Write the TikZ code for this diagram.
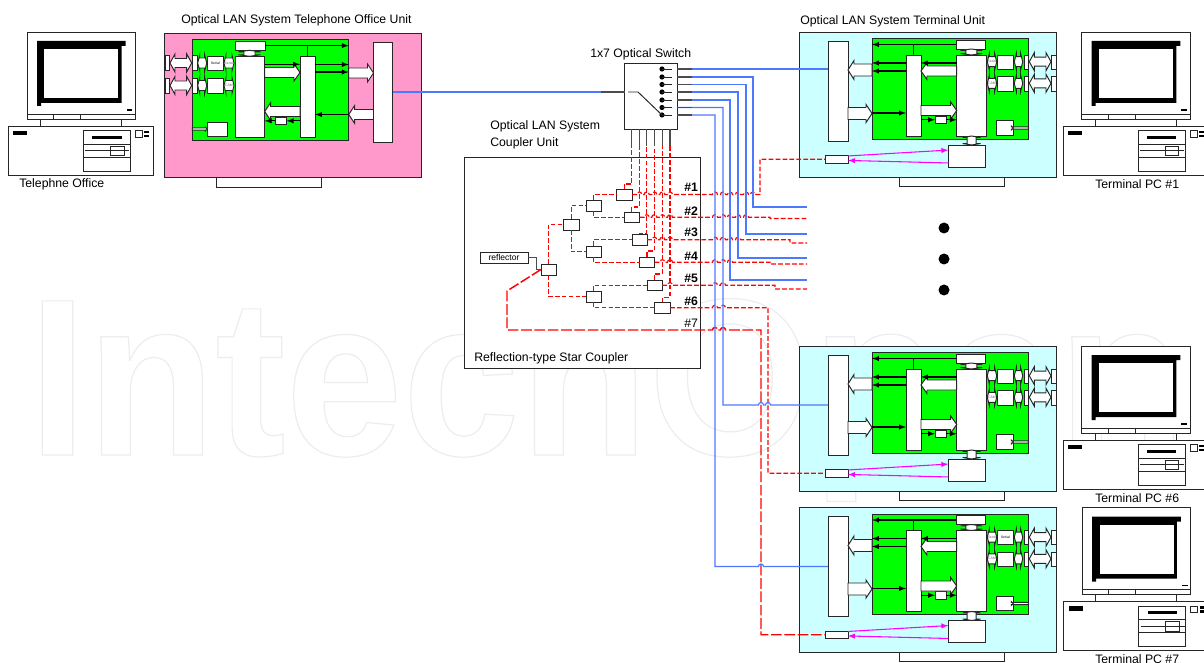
\documentclass[tikz,border=0pt]{standalone}
\usepackage{fontspec}
\setmainfont{Liberation Sans}
\newfontfamily\markfont[FakeStretch=0.94]{Liberation Sans Bold}
\usepackage{tikz}

\definecolor{unitpink}{HTML}{FF99CC}
\definecolor{unitcyan}{HTML}{CCFFFF}
\definecolor{boardgreen}{HTML}{00FF00}
\definecolor{fibreblue}{HTML}{4D79FF}
\definecolor{fibrered}{HTML}{FF0000}
\definecolor{linkmag}{HTML}{FF00FF}

\tikzset{
  outline/.style={draw=black!85,line width=0.72pt},
  blockbox/.style={outline,fill=white,inner sep=0pt,outer sep=0pt},
  shapefill/.style={outline,fill=white,line join=miter},
  sigline/.style={draw=black,line width=0.8pt,-latex},
  fibre/.style={draw=fibreblue,line width=0.9pt},
  stub/.style={draw=black!70,line width=0.9pt},
  redfibre/.style={draw=fibrered,line width=0.85pt,dash pattern=on 3.6pt off 1.6pt},
  longfibre/.style={draw=fibrered,line width=1.1pt,dash pattern=on 8pt off 2pt},
  maglink/.style={draw=linkmag,line width=0.8pt,-latex},
  caption/.style={font=\fontsize{9.2}{11}\selectfont,anchor=west,inner sep=0pt},
  portlabel/.style={font=\bfseries\fontsize{9.2}{11}\selectfont,anchor=west,inner sep=0pt},
  tinytext/.style={font=\fontsize{2.6}{3}\selectfont,text=black!60,inner sep=0pt}
}

% box given by its two corners, in picture units
\newcommand{\pbox}[7][]{%
  \node[blockbox,minimum width={0.75pt*(#5-#3)},minimum height={0.75pt*(#6-#4)},#1] (#2) at ({(#3+#5)/2},{(#4+#6)/2}) {#7};}
% white block arrow
\newcommand{\bigarrow}[6]{%
  \draw[shapefill] (#1,{#3-#4}) -- ({#2-#6},{#3-#4}) -- ({#2-#6},{#3-#5}) -- (#2,#3) -- ({#2-#6},{#3+#5}) -- ({#2-#6},{#3+#4}) -- (#1,{#3+#4}) -- cycle;}
% double headed white arrows
\newcommand{\dblarrow}[6]{%
  \draw[shapefill] (#1,#3) -- ({#1+#6},{#3-#5}) -- ({#1+#6},{#3-#4}) -- ({#2-#6},{#3-#4}) -- ({#2-#6},{#3-#5}) -- (#2,#3) -- ({#2-#6},{#3+#5}) -- ({#2-#6},{#3+#4}) -- ({#1+#6},{#3+#4}) -- ({#1+#6},{#3+#5}) -- cycle;}
\newcommand{\vdblarrow}[6]{%
  \draw[shapefill] (#3,#1) -- ({#3-#5},{#1+#6}) -- ({#3-#4},{#1+#6}) -- ({#3-#4},{#2-#6}) -- ({#3-#5},{#2-#6}) -- (#3,#2) -- ({#3+#5},{#2-#6}) -- ({#3+#4},{#2-#6}) -- ({#3+#4},{#1+#6}) -- ({#3+#5},{#1+#6}) -- cycle;}
% run along a level line, with a small bridge over each crossing
\newcommand{\bridges}[2]{foreach \hx in {#2} { -- ({\hx-2.5},#1) arc[start angle=180,delta angle=180,radius=2.5] }}

% computer, drawn at the office position
\newcommand{\pcunit}[3]{%
  \begin{scope}[shift={(#2,#3)}]
    %monitor
    \pbox{#1mon}{27}{32}{135.5}{119}{}
    \fill[black] (37,41) -- (125.6,41) -- (125.6,46) -- (121.7,46) -- (121.7,103) -- (41,103) -- (41,106) -- (37,106) -- cycle;
    \fill[white] (44.3,49.3) rectangle (118.3,98.3);
    \fill[black] (126.7,109) rectangle (132.3,110.7);
    \draw[outline] (27,114.3) -- (135.5,114.3);
    \draw[outline] (53.3,114.3) -- (53.3,119);
    \draw[outline] (80.7,114.3) -- (80.7,119);
    \draw[outline] (40.3,119) -- (40.3,126);
    \draw[outline] (121.7,119) -- (121.7,126);
    %base
    \pbox{#1base}{8.7}{126}{153.3}{175.3}{}
    \fill[black] (13.3,130.7) rectangle (27.3,135.3);
    \pbox{#1drive}{83.3}{130.7}{130.7}{171}{}
    \draw[outline] (83.3,144) -- (130.7,144);
    \draw[outline] (83.3,157.3) -- (130.7,157.3);
    \fill[black] (92.3,135.7) rectangle (121.7,138.7);
    \draw[outline] (85.3,150.7) -- (129.3,150.7);
    \draw[outline] (110.7,146) rectangle (124,155.7);
    \draw[outline] (135.7,130.7) rectangle (142.3,137.3);
    \fill[black] (144.3,130.7) rectangle (149,133.3);
    \fill[black] (144.3,134.7) rectangle (149,137.3);
  \end{scope}}

% terminal unit, shifted down from the top one
\newcommand{\termunit}[4]{%
  \begin{scope}[shift={(0,#2)}]
    %case
    \pbox[fill=unitcyan]{#1case}{799.5}{32}{1056.5}{177}{}
    \pbox{#1stand}{899}{177}{1004}{186}{}
    \pbox[fill=boardgreen]{#1board}{872}{38.5}{1028.3}{139}{}
    %blocks
    \pbox{#1opt}{828}{41}{848}{141}{}
    \pbox{#1bus}{906}{55}{921}{136}{}
    \pbox{#1cpu}{956.7}{55}{986}{136}{}
    \pbox{#1top}{956}{40}{985.7}{49}{}
    \vdblarrow{49}{55}{971.4}{5.5}{11}{1.5}
    \pbox{#1serA}{997.3}{55}{1013.3}{69.3}{\fontsize{2.6}{3}\selectfont #4}
    \pbox{#1serB}{997.3}{76.7}{1013.3}{91}{}
    \dblarrow{987.3}{996.7}{61.7}{5}{8}{2}
    \dblarrow{987.3}{996.7}{83.3}{5}{8}{2}
    \node[tinytext] (#1txA) at (992,61.7) {#3};
    \node[tinytext] (#1txB) at (992,83.3) {CAM};
    \dblarrow{1014.3}{1022.7}{61.7}{5}{8}{2}
    \dblarrow{1014.3}{1022.7}{83.3}{5}{8}{2}
    \pbox{#1sm1}{1024}{55}{1028.3}{69.3}{}
    \pbox{#1sm2}{1024}{76.7}{1028.3}{91}{}
    \dblarrow{1029.3}{1051}{61.7}{4.5}{9}{5}
    \dblarrow{1029.3}{1051}{83.3}{4.5}{9}{5}
    \pbox{#1port1}{1051.7}{55}{1056.3}{69.3}{}
    \pbox{#1port2}{1051.7}{76.7}{1056.3}{91}{}
    \pbox{#1mem}{996.7}{120.7}{1013.3}{135.3}{}
    \bigarrow{1028.3}{1013.3}{128}{1.2}{2}{2}
    \pbox{#1small}{935}{116}{946}{123.5}{}
    \pbox{#1lan}{948.3}{145}{985.7}{167.3}{}
    \vdblarrow{136}{145}{971.6}{4.5}{9}{1.5}
    \pbox{#1link}{825}{155.5}{848}{163}{}
    %block arrows
    \bigarrow{956.7}{921}{71}{5}{8.5}{-6}
    \bigarrow{872}{848}{70}{6}{9.5}{-6}
    \bigarrow{848}{872}{113.5}{6}{9}{6}
    \bigarrow{921}{956.7}{110.5}{5}{8.5}{6}
    %signal lines
    \draw[sigline] (#1top.west) -- (#1top.west -| #1board.west);
    \draw[outline] (#1bus.north) -- (#1bus.north |- #1top.west);
    \draw[sigline] (#1bus.west |- 0,63) -- (#1board.west |- 0,63);
    \draw[sigline] (#1bus.west |- 0,71) -- (#1board.west |- 0,71);
    \draw[sigline] (#1cpu.west |- 0,63) -- (#1bus.east |- 0,63);
    \draw[sigline] (#1board.west |- 0,113) -- (#1bus.west |- 0,113);
    \draw[sigline] (#1bus.east |- #1small.west) -- (#1small.west);
    \draw[sigline] (#1small.east) -- (#1small.east -| #1cpu.west);
    %optical link
    \draw[maglink] (#1link.16) -- (#1lan.162);
    \draw[maglink] (#1lan.200) -- (#1link.-6);
  \end{scope}}

\begin{document}
\begin{tikzpicture}[x=0.75pt,y=0.75pt,yscale=-1,xscale=1]
  \useasboundingbox (0,0) rectangle (1204,663);
  \fill[white] (0,0) rectangle (1204,663);

  % Watermark
  \node[anchor=base west,inner sep=0pt,font=\markfont\fontsize{168}{170}\selectfont] (wmark) at (28,455) {\special{pdf:code q 1 Tr 0.9 w 0.93 G}IntechOpen\special{pdf:code Q}};

  % Text Node
  \node[caption] (ttloffice) at (181,20) {Optical LAN System Telephone Office Unit};
  \node[caption] (ttlterm) at (800,21) {Optical LAN System Terminal Unit};
  \node[caption] (ttlswitch) at (590,54.5) {1x7 Optical Switch};
  \node[caption] (ttlcoupA) at (490,126.5) {Optical LAN System};
  \node[caption] (ttlcoupB) at (490,143) {Coupler Unit};
  \node[caption] (lbloffice) at (19,184.5) {Telephne Office};
  \node[caption] (lblpc1) at (1095,184.5) {Terminal PC \#1};
  \node[caption] (lblpc6) at (1095,498) {Terminal PC \#6};
  \node[caption] (lblpc7) at (1095,659.5) {Terminal PC \#7};

  % Computers
  \pcunit{pcoff}{0}{0}
  \pcunit{pcone}{1054.7}{0}
  \pcunit{pcsix}{1054.7}{314}
  \pcunit{pcsev}{1055.2}{475.5}

  % Office unit
  \pbox[fill=unitpink]{ocase}{164.5}{33}{421}{177}{}
  \pbox{ostand}{216.5}{177}{321.5}{187}{}
  \pbox[fill=boardgreen]{oboard}{192.3}{39.7}{348.7}{140}{}
  \pbox{oopt}{373.5}{42}{392.5}{142}{}
  \pbox{obus}{300}{56.3}{315}{137.3}{}
  \pbox{ocpu}{235}{56.3}{264.7}{137.3}{}
  \pbox{otop}{235.3}{41}{265}{50.3}{}
  \vdblarrow{50.3}{56.3}{249.5}{5.5}{11}{1.5}
  \pbox{oport1}{165}{55.7}{169.3}{70.7}{}
  \pbox{oport2}{165}{78.3}{169.3}{93}{}
  \dblarrow{170}{191.7}{63}{4.5}{9}{5}
  \dblarrow{170}{191.7}{85.5}{4.5}{9}{5}
  \pbox{osm1}{192.3}{55.7}{197.3}{70.7}{}
  \pbox{osm2}{192.3}{78.3}{197.3}{93}{}
  \dblarrow{197.7}{206.7}{63}{5}{8}{2}
  \dblarrow{197.7}{206.7}{85.5}{5}{8}{2}
  \pbox{oser1}{207.3}{56.3}{223.3}{70.7}{\fontsize{2.6}{3}\selectfont Serial}
  \pbox{oser2}{207.3}{78.3}{223.3}{93}{}
  \dblarrow{224}{234}{63}{5}{8}{2}
  \dblarrow{224}{234}{85.5}{5}{8}{2}
  \node[tinytext] (otxA) at (229,63) {Serial};
  \node[tinytext] (otxB) at (229,85.5) {CAM};
  \pbox{omem}{207.3}{122}{227.7}{136.7}{}
  \bigarrow{192.3}{207.3}{129}{1.2}{2}{2}
  \pbox{osmall}{275.3}{117}{286.7}{124.7}{}
  %Block arrows
  \bigarrow{264.7}{300}{72.5}{5}{8.5}{6}
  \bigarrow{348.7}{373.5}{73}{5}{9}{6}
  \bigarrow{300}{264.7}{111.5}{5}{9}{-6}
  \bigarrow{373.5}{348.7}{114.5}{5}{9}{-6}
  %Straight Lines
  \draw[sigline] (otop.east) -- (otop.east -| oboard.east);
  \draw[outline] (obus.north) -- (obus.north |- otop.east);
  \draw[sigline] (ocpu.east |- 0,64.3) -- (obus.west |- 0,64.3);
  \draw[sigline] (obus.east |- 0,64.5) -- (oboard.east |- 0,64.5);
  \draw[sigline] (obus.east |- 0,72) -- (oboard.east |- 0,72);
  \draw[sigline] (oboard.east |- 0,114.5) -- (obus.east |- 0,114.5);
  \draw[sigline] (obus.west |- osmall.east) -- (osmall.east);
  \draw[sigline] (osmall.west) -- (osmall.west -| ocpu.east);

  % Terminal units
  \termunit{t1}{0}{Serial}{}
  \termunit{t6}{314}{}{}
  \termunit{t7}{475.5}{Serial}{Serial}

  % Dots between units
  \fill[black] (944,228) circle (5.5);
  \fill[black] (944,259) circle (5.5);
  \fill[black] (944,290) circle (5.5);

  % Switch
  \pbox{switch}{624.5}{63}{677}{129.5}{}
  \coordinate (sw0) at (624.5,92);
  \foreach \n/\y in {1/69,2/77,3/84.5,4/92,5/100,6/107.5,7/115} {
    \fill[black] (662,\y) circle (2.6);
    \draw[outline] (662,\y) -- (672,\y);
    \coordinate (sw\n) at (677,\y);
  }
  \draw[outline] (628,92) -- (638,92) -- (662,115);
  \foreach \n/\x in {1/631.7,2/639.3,3/646.7,4/654.3,5/662.3,6/670} {
    \coordinate (swb\n) at (\x,129.5);
  }

  % Coupler unit
  \pbox{coupler}{464.5}{157}{700}{368}{}
  \node[caption] (ttlstar) at (474,358) {Reflection-type Star Coupler};
  \pbox{refl}{480}{252}{528}{263}{\fontsize{6.4}{7}\selectfont reflector}
  \pbox{root}{541}{264}{556}{275}{}
  \pbox{tr1}{563.5}{219}{579}{230}{}
  \pbox{mid1}{586}{200}{601}{211}{}
  \pbox{mid2}{586}{246}{601}{257}{}
  \pbox{mid3}{586}{291}{601}{302}{}
  \pbox{cp1}{616.5}{189}{632}{200}{}
  \pbox{cp2}{624}{212}{639.5}{222.5}{}
  \pbox{cp3}{632}{234.5}{647}{245}{}
  \pbox{cp4}{639.5}{257}{654.5}{267.5}{}
  \pbox{cp5}{647}{280}{662}{290.5}{}
  \pbox{cp6}{654.5}{302.5}{670}{313}{}
  \node[portlabel] (num1) at (684,187.5) {\#1};
  \node[portlabel] (num2) at (684,211) {\#2};
  \node[portlabel] (num3) at (684,232.5) {\#3};
  \node[portlabel] (num4) at (684,256) {\#4};
  \node[portlabel] (num5) at (684,278.5) {\#5};
  \node[portlabel] (num6) at (684,301) {\#6};
  \node[caption] (num7) at (684,323.5) {\#7};

  % Free ends
  \coordinate (end2) at (807,207);
  \coordinate (end3) at (807,234);
  \coordinate (end4) at (807,258);
  \coordinate (end5) at (807,280);
  \coordinate (red2) at (807,218.5);
  \coordinate (red3) at (807,243);
  \coordinate (red4) at (807,264);
  \coordinate (red5) at (807,289);

  %Straight Lines, inside the coupler
  \draw[stub] (refl.east) -- (536.5,257.5) |- (root.west);
  \draw[redfibre] (root.north) |- (tr1.west);
  \draw[redfibre] (root.south) |- (mid3.west);
  \draw[redfibre] (tr1.north) |- (mid1.west);
  \draw[redfibre] (tr1.south) |- (mid2.west);
  \draw[redfibre] (mid1.north) |- (cp1.west);
  \draw[redfibre] (mid1.south) |- (cp2.west);
  \draw[redfibre] (mid2.north) |- (cp3.west);
  \draw[redfibre] (mid2.south) |- (cp4.west);
  \draw[redfibre] (mid3.north) |- (cp5.west);
  \draw[redfibre] (mid3.south) |- (cp6.west);

  %Straight Lines, up to the switch
  \draw[redfibre] (cp1.north) -- ++(0,-5) -| (swb1);
  \draw[redfibre] (cp2.north) -- ++(0,-5) -| (swb2);
  \draw[redfibre] (cp3.north) -- ++(0,-1) -| (swb3);
  \draw[redfibre] (cp4.north) -- ++(0,-6) -| (swb4);
  \draw[redfibre] (cp5.north) -- ++(0,-6) -| (swb5);
  \draw[redfibre] (cp6.north) -- ++(0,-5) -| (swb6);
  \foreach \n in {1,...,6} { \draw[stub] (swb\n) -- ++(0,17); }

  %Straight Lines, coupler outputs
  \draw[redfibre] (cp1.east) \bridges{194.5}{639.3,646.7,654.3,662.3,670,715,723,730,738,746,753} -- (760,194.5) |- (t1link.west);
  \draw[redfibre] (cp2.east) \bridges{217.2}{646.7,654.3,662.3,670,715,723,730,738,746} -- (770,217.2) -- (770,218.5) -- (red2);
  \draw[redfibre] (cp3.east) \bridges{239.7}{654.3,662.3,670,715,723,730,738} -- (790,239.7) |- (red3);
  \draw[redfibre] (cp4.east) \bridges{262.2}{662.3,670,715,723,730} -- (770,262.2) |- (red4);
  \draw[redfibre] (cp5.east) \bridges{285.2}{670,715,723} -- (775,285.2) |- (red5);
  \draw[redfibre] (cp6.east) \bridges{307.7}{715,723} -- (768,307.7) |- (t6link.west);
  \draw[longfibre] (root.west) -- (507,291) -- (507,330) \bridges{330}{715,723} -- (761,330) |- (t7link.west);

  %Straight Lines, switch outputs
  \draw[fibre] (oopt.east) -- (sw0);
  \draw[stub] (sw0) -- ++(-24,0);
  \draw[fibre] (sw1) -- (sw1 -| t1opt.west);
  \draw[fibre] (sw2) -- (753,77) |- (end2);
  \draw[fibre] (sw3) -- (746,84.5) |- (end3);
  \draw[fibre] (sw4) -- (738,92) |- (end4);
  \draw[fibre] (sw5) -- (730,100) |- (end5);
  \draw[fibre] (sw6) -- (723,107.5) -- (723,405) \bridges{405}{761,768} -- (t6opt.west);
  \draw[fibre] (sw7) -- (715,115) -- (715,566.5) \bridges{566.5}{761} -- (t7opt.west);
  \foreach \n in {1,...,7} { \draw[stub] (sw\n) -- ++(15,0); }
\end{tikzpicture}
\end{document}
